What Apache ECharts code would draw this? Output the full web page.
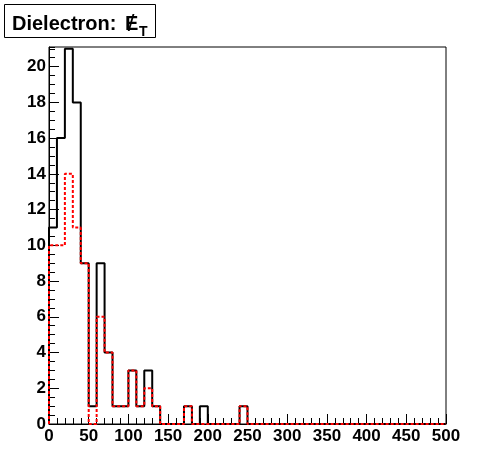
<!DOCTYPE html>
<html><head><meta charset="utf-8">
<script src="https://cdn.jsdelivr.net/npm/echarts@6/dist/echarts.min.js"></script>
<style>html,body{margin:0;padding:0;background:#fff}#c{width:496px;height:472px}</style>
</head><body><div id="c"></div>
<script>
const binWidth = 10;
const xMin = 0, xMax = 500;
const yMax = 21.1;
const blackCounts = [11,16,21,18,9,1,9,4,1,1,3,1,3,1,0,0,0,1,0,1,0,0,0,0,1,
                     0,0,0,0,0,0,0,0,0,0,0,0,0,0,0,0,0,0,0,0,0,0,0,0,0];
const redCounts   = [10,10,14,11,9,0,6,4,1,1,3,1,2,1,0,0,0,1,0,0,0,0,0,0,1,
                     0,0,0,0,0,0,0,0,0,0,0,0,0,0,0,0,0,0,0,0,0,0,0,0,0];
const titleMain = 'Dielectron:';
const titleSym = 'E';
const titleSub = 'T';

function steps(counts){
  const pts = [[xMin, 0]];
  counts.forEach((v, i) => pts.push([xMin + i * binWidth, v]));
  pts.push([xMin + counts.length * binWidth, counts[counts.length - 1]]);
  return pts;
}
const FONT = '"Liberation Sans", Arial, Helvetica, sans-serif';
const chart = echarts.init(document.getElementById('c'), null, {renderer: 'canvas'});
chart.setOption({
  animation: false,
  backgroundColor: '#fff',
  grid: {left: 49, right: 50, top: 47, bottom: 48, show: true, borderColor: '#000', borderWidth: 1, backgroundColor: 'transparent'},
  xAxis: {
    type: 'value', min: xMin, max: xMax, interval: 50,
    axisLine: {show: true, onZero: false, lineStyle: {color: '#000', width: 1}},
    axisTick: {show: true, inside: true, length: 10, lineStyle: {color: '#000', width: 1}},
    minorTick: {show: true, splitNumber: 5, length: 6, lineStyle: {color: '#000', width: 1}},
    splitLine: {show: false},
    axisLabel: {color: '#000', fontFamily: FONT, fontWeight: 'bold', fontSize: 17, margin: 4}
  },
  yAxis: [{
    type: 'value', min: 0, max: yMax, interval: 2,
    axisLine: {show: true, lineStyle: {color: '#000', width: 1}},
    axisTick: {show: true, inside: true, length: 10, lineStyle: {color: '#000', width: 1}},
    splitLine: {show: false},
    axisLabel: {color: '#000', fontFamily: FONT, fontWeight: 'bold', fontSize: 17, margin: 3, showMaxLabel: false}
  }, {
    type: 'value', min: 0, max: yMax, interval: 0.5, position: 'left',
    axisLine: {show: false},
    axisTick: {show: true, inside: true, length: 6, lineStyle: {color: '#000', width: 1}},
    splitLine: {show: false},
    axisLabel: {show: false}
  }],
  series: [{
    type: 'line', step: 'end', data: steps(blackCounts), showSymbol: false, z: 3,
    lineStyle: {color: '#000', width: 2}, itemStyle: {color: '#000'}
  }, {
    type: 'line', step: 'end', data: steps(redCounts), showSymbol: false, z: 4,
    lineStyle: {color: '#ff0000', width: 2, type: [3, 2]}, itemStyle: {color: '#ff0000'}
  }],
  graphic: [
    {type: 'rect', shape: {x: 4.5, y: 4.5, width: 151, height: 33}, style: {fill: '#fff', stroke: '#000', lineWidth: 1}, z: 10},
    {type: 'text', x: 12, y: 24, style: {text: titleMain, font: 'bold 20px ' + FONT, fill: '#000', verticalAlign: 'middle'}, z: 11},
    {type: 'text', x: 125, y: 24, style: {text: titleSym, font: 'bold 20px ' + FONT, fill: '#000', verticalAlign: 'middle'}, z: 11},
    {type: 'text', x: 131, y: 24, style: {text: '/', font: '24px ' + FONT, fill: '#000', align: 'center', verticalAlign: 'middle'}, z: 11},
    {type: 'text', x: 139, y: 32, style: {text: titleSub, font: 'bold 14px ' + FONT, fill: '#000', verticalAlign: 'middle'}, z: 11}
  ]
});
</script></body></html>
